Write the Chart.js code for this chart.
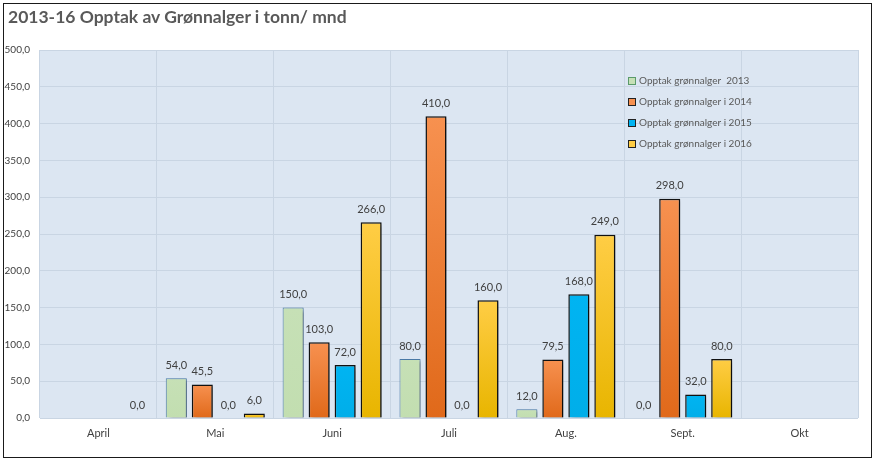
<!DOCTYPE html>
<html>
<head>
<meta charset="utf-8">
<script src="https://cdn.jsdelivr.net/npm/chart.js@4.4.1/dist/chart.umd.min.js"></script>
<style>
  html, body { margin: 0; padding: 0; background: #fff; }
  #frame {
    position: absolute; left: 3px; top: 3px; width: 869px; height: 455px;
    border: 1.5px solid #1a1a1a; box-sizing: border-box;
  }
  #title {
    position: absolute; left: 8px; top: 6px;
    font: bold 17.5px 'Lato', 'Open Sans', sans-serif; color: #595959;
    white-space: nowrap;
  }
  #wrap { position: absolute; left: 0; top: 0; width: 877px; height: 463px; }
</style>
</head>
<body>
<div id="frame"></div>
<div id="wrap"><canvas id="c"></canvas></div>
<div id="title">2013-16 Opptak av Grønnalger i tonn/ mnd</div>
<script>
// ── Data (tonn per måned) ─────────────────────────────────────────
const MONTHS = ['April', 'Mai', 'Juni', 'Juli', 'Aug.', 'Sept.', 'Okt'];
const SERIES_NAMES = [
  'Opptak grønnalger  2013',
  'Opptak grønnalger i 2014',
  'Opptak grønnalger i 2015',
  'Opptak grønnalger i 2016',
];
const Y2013 = [null, 54.0, 150.0, 80.0, 12.0, 0.0, null];
const Y2014 = [null, 45.5, 103.0, 410.0, 79.5, 298.0, null];
const Y2015 = [null, 0.0, 72.0, 0.0, 168.0, 32.0, null];
const Y2016 = [0.0, 6.0, 266.0, 160.0, 249.0, 80.0, null];
const Y_TICKS = [0, 50, 100, 150, 200, 250, 300, 350, 400, 450, 500];

const FONT = "'Lato', 'Open Sans', sans-serif";
const TXT = '#404040';

// bar styles: [top colour, bottom colour, border colour, border width]
const STYLES = [
  ['#c6e0b6', '#c2deb0', '#4a7aa8', 1],
  ['#f79150', '#e0691a', '#111111', 1.5],
  ['#00b4f2', '#00aee9', '#111111', 1.5],
  ['#ffcd45', '#e8b500', '#111111', 1.5],
];

const fmt = v => v.toFixed(1).replace('.', ',');

function barGradient(ctx, idx) {
  const chart = ctx.chart;
  const st = STYLES[idx];
  if (ctx.type !== 'data' || !chart.chartArea) return st[0];
  const v = ctx.raw;
  if (v === null || v === undefined) return st[0];
  const ys = chart.scales.y;
  const top = ys.getPixelForValue(v), base = ys.getPixelForValue(0);
  if (Math.abs(base - top) < 1) return st[0];
  const g = chart.ctx.createLinearGradient(0, top, 0, base);
  g.addColorStop(0, st[0]);
  g.addColorStop(1, st[1]);
  return g;
}

// plot area background
const plotBg = {
  id: 'plotBg',
  beforeDraw(chart) {
    const { ctx, chartArea: a } = chart;
    ctx.save();
    ctx.fillStyle = '#dce6f2';
    ctx.fillRect(a.left, a.top, a.right - a.left, a.bottom - a.top);
    ctx.restore();
  }
};

// drop shadow on bars
const barShadow = {
  id: 'barShadow',
  beforeDatasetDraw(chart) {
    const ctx = chart.ctx;
    ctx.save();
    ctx.shadowColor = 'rgba(0,0,0,0.35)';
    ctx.shadowBlur = 3;
    ctx.shadowOffsetX = 3;
    ctx.shadowOffsetY = 2;
  },
  afterDatasetDraw(chart) { chart.ctx.restore(); }
};

// value labels above bars
const valueLabels = {
  id: 'valueLabels',
  afterDatasetsDraw(chart) {
    const ctx = chart.ctx;
    ctx.save();
    ctx.font = `11px ${FONT}`;
    ctx.fillStyle = TXT;
    ctx.textAlign = 'center';
    ctx.textBaseline = 'middle';
    chart.data.datasets.forEach((ds, i) => {
      const meta = chart.getDatasetMeta(i);
      meta.data.forEach((bar, j) => {
        const v = ds.data[j];
        if (v === null || v === undefined) return;
        ctx.fillText(fmt(v), bar.x, bar.y - 13);
      });
    });
    ctx.restore();
  }
};

// legend inside the plot area
const innerLegend = {
  id: 'innerLegend',
  afterDraw(chart) {
    const ctx = chart.ctx;
    ctx.save();
    ctx.font = `10px ${FONT}`;
    ctx.textBaseline = 'middle';
    SERIES_NAMES.forEach((name, i) => {
      const x = 628, y = 81 + i * 21;
      const st = STYLES[i];
      ctx.fillStyle = st[0];
      ctx.fillRect(x, y - 4, 8, 8);
      ctx.strokeStyle = i === 0 ? '#5a9a6a' : '#222';
      ctx.lineWidth = 1;
      ctx.strokeRect(x + 0.5, y - 3.5, 7, 7);
      ctx.fillStyle = '#595959';
      ctx.fillText(name, x + 11, y);
    });
    ctx.restore();
  }
};

const datasets = [Y2013, Y2014, Y2015, Y2016].map((arr, i) => ({
  label: SERIES_NAMES[i],
  data: arr,
  backgroundColor: ctx => barGradient(ctx, i),
  borderColor: STYLES[i][2],
  borderWidth: STYLES[i][3],
  borderSkipped: 'bottom',
  categoryPercentage: 0.89,
  barPercentage: 0.81,
}));

new Chart(document.getElementById('c'), {
  type: 'bar',
  data: { labels: MONTHS, datasets },
  options: {
    responsive: true,
    maintainAspectRatio: false,
    animation: false,
    layout: { padding: { left: 0, right: 19, top: 50, bottom: 0 } },
    plugins: {
      legend: { display: false },
      tooltip: { enabled: false },
      title: { display: false },
    },
    scales: {
      x: {
        grid: { color: '#c9d5e3', drawTicks: false, offset: true },
        border: { display: false },
        ticks: { color: TXT, font: { family: FONT, size: 11 }, padding: 9 },
        afterFit: s => { s.height = 45; },
      },
      y: {
        min: 0, max: 500,
        afterBuildTicks: s => { s.ticks = Y_TICKS.map(v => ({ value: v })); },
        grid: { color: '#c9d5e3', drawTicks: false },
        border: { display: false },
        ticks: {
          color: TXT, font: { family: FONT, size: 10 }, padding: 10,
          callback: v => fmt(v),
        },
        afterFit: s => { s.width = 40; },
      },
    },
  },
  plugins: [plotBg, barShadow, valueLabels, innerLegend],
});
</script>
</body>
</html>
